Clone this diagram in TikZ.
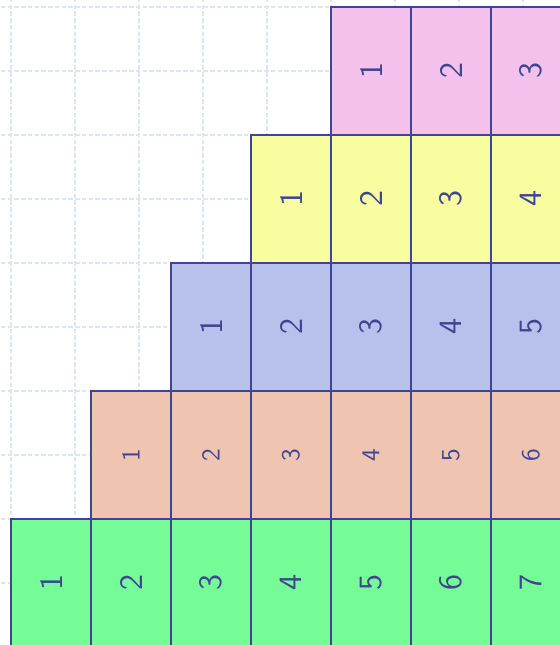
\documentclass[tikz,border=0pt]{standalone}
\definecolor{edgec}{HTML}{3F4592}
\definecolor{gridc}{HTML}{DCE5FB}
\definecolor{pinkc}{HTML}{F4C0EC}
\definecolor{yellowc}{HTML}{F8FEA0}
\definecolor{bluec}{HTML}{B8C1EB}
\definecolor{peachc}{HTML}{EFC5B2}
\definecolor{greenc}{HTML}{75FC96}
\begin{document}
\begin{tikzpicture}[
    x=1cm, y=1cm,
    cell/.style={draw=edgec, line width=1.05pt, rotate=90, inner sep=0pt,
      minimum width=2cm, minimum height=1.25cm, text=edgec},
    gridline/.style={draw=gridc, line width=1.3pt, dash pattern=on 2pt off 1pt}
  ]
  \useasboundingbox (-0.171875,0.109375) rectangle (8.578125,-9.96875);
  \clip (-0.171875,0.109375) rectangle (8.578125,-9.96875);
  % background grid
  \draw[gridline] (-1,1) grid (9,-11);
  % staircase rows
  \foreach \n/\fillc/\fs in {3/pinkc/14.5, 4/yellowc/14.5, 5/bluec/14.5, 6/peachc/11.5, 7/greenc/14.5} {
    \foreach \k in {1,...,\n} {
      \node[cell, fill=\fillc, font=\sffamily\fontsize{\fs}{\fs}\selectfont]
        (r\n c\k) at ({(7-\n)*1.25+(\k-0.5)*1.25}, {-(\n-3)*2-1}) {\k};
    }
  }
\end{tikzpicture}
\end{document}
